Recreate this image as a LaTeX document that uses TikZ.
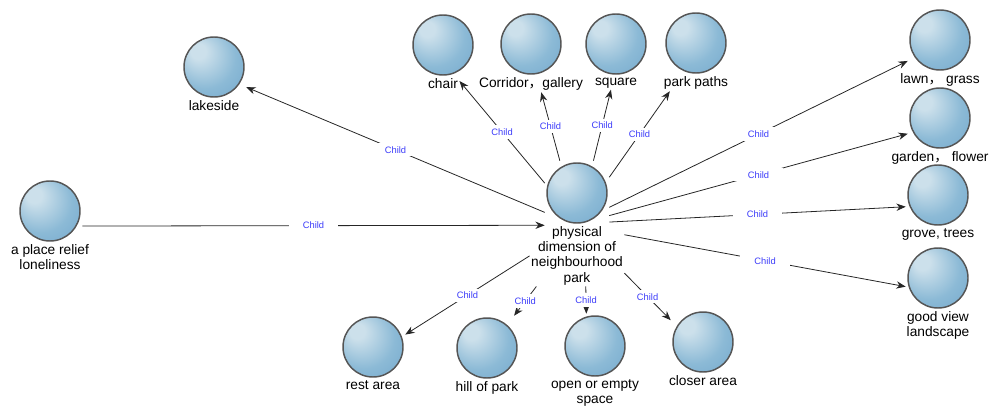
\documentclass[tikz,border=0pt]{standalone}
\usepackage{fontspec}
\setmainfont{Liberation Sans}
\newfontfamily\cjk{Noto Sans CJK SC}
\usetikzlibrary{positioning,arrows.meta}
\definecolor{orbhi}{RGB}{204,224,235}
\definecolor{orbmid}{RGB}{140,186,214}
\definecolor{orblo}{RGB}{108,163,202}
\definecolor{orbrim}{RGB}{85,85,85}
\definecolor{tagblue}{RGB}{60,60,250}
\pgfdeclareradialshading{orb}{\pgfpoint{-14bp}{14bp}}{color(0bp)=(orbhi); color(6bp)=(orbhi); color(24bp)=(orbmid); color(44bp)=(orblo); color(50bp)=(orblo)}
\begin{document}
\begin{tikzpicture}[x=0.75pt, y=-0.75pt,
  orb/.style={rectangle, minimum size=48pt, inner sep=0pt,
    path picture={\shade[shading=orb] (path picture bounding box.center) circle (22.5pt);
      \draw[orbrim, line width=1.1pt] (path picture bounding box.center) circle (22.5pt);}},
  txt/.style={inner sep=1pt, align=center, font=\fontsize{10.3}{11.3}\selectfont},
  link/.style={draw=black!85, line width=0.6pt, -{Stealth[length=7pt, width=5.5pt]}},
  tag/.style={pos=0.5, fill=white, text=tagblue, font=\fontsize{7}{8}\selectfont,
    minimum width=37pt, minimum height=10pt, inner sep=0pt}]
\useasboundingbox (0,0) rectangle (989,407);
\node[orb] (hub) at (577,193) {};
\node[txt, below=0pt of hub] (hub-t) {physical\\dimension of\\neighbourhood\\park};
\node[orb] (lake) at (214,67) {};
\node[txt, below=0pt of lake] (lake-t) {lakeside};
\node[orb] (rel) at (50,211) {};
\node[txt, below=0pt of rel] (rel-t) {a place relief\\loneliness};
\node[orb] (chr) at (443,45) {};
\node[txt, below=0pt of chr] (chr-t) {chair};
\node[orb] (cor) at (531,44) {};
\node[txt, below=0pt of cor] (cor-t) {Corridor{\cjk ，}gallery};
\node[orb] (sq) at (616,44) {};
\node[txt, below=0pt of sq] (sq-t) {square};
\node[orb] (pp) at (696,43) {};
\node[txt, below=0pt of pp] (pp-t) {park paths};
\node[orb] (lwn) at (940,40) {};
\node[txt, below=0pt of lwn] (lwn-t) {lawn{\cjk ，} grass};
\node[orb] (gdn) at (940,118) {};
\node[txt, below=0pt of gdn] (gdn-t) {garden{\cjk ，} flower};
\node[orb] (grv) at (938,195) {};
\node[txt, below=0pt of grv] (grv-t) {grove, trees};
\node[orb] (gv) at (938,278) {};
\node[txt, below=0pt of gv] (gv-t) {good view\\landscape};
\node[orb] (rst) at (373,347) {};
\node[txt, below=0pt of rst] (rst-t) {rest area};
\node[orb] (hil) at (487,348) {};
\node[txt, below=0pt of hil] (hil-t) {hill of park};
\node[orb] (emp) at (595,346) {};
\node[txt, below=0pt of emp] (emp-t) {open or empty\\space};
\node[orb] (clo) at (703,342) {};
\node[txt, below=0pt of clo] (clo-t) {closer area};
\draw[link] (hub.211) -- (lake.328) node[tag] {Child};
\draw[link] (rel.335) -- (hub.225) node[tag] {Child};
\draw[link] (hub.163) -- (chr-t.10) node[tag] {Child};
\draw[link] (hub.118) -- (cor-t.322) node[tag] {Child};
\draw[link] (hub.63) -- (sq-t.233) node[tag] {Child};
\draw[link] (hub.26) -- (pp-t.197) node[tag] {Child};
\draw[link] (hub.336) -- (lwn.213) node[tag] {Child};
\draw[link] (hub.325) -- (gdn.206) node[tag] {Child};
\draw[link] (hub.318) -- (grv.200) node[tag] {Child};
\draw[link] (hub-t.24) -- (gv.195) node[tag] {Child};
\draw[link] (hub-t.180) -- (rst.21) node[tag] {Child};
\draw[link] (hub-t.217) -- (hil.50) node[tag] {Child};
\draw[link] (hub-t.286) -- (emp.105) node[tag] {Child};
\draw[link] (hub-t.340) -- (clo.146) node[tag] {Child};
\end{tikzpicture}
\end{document}
